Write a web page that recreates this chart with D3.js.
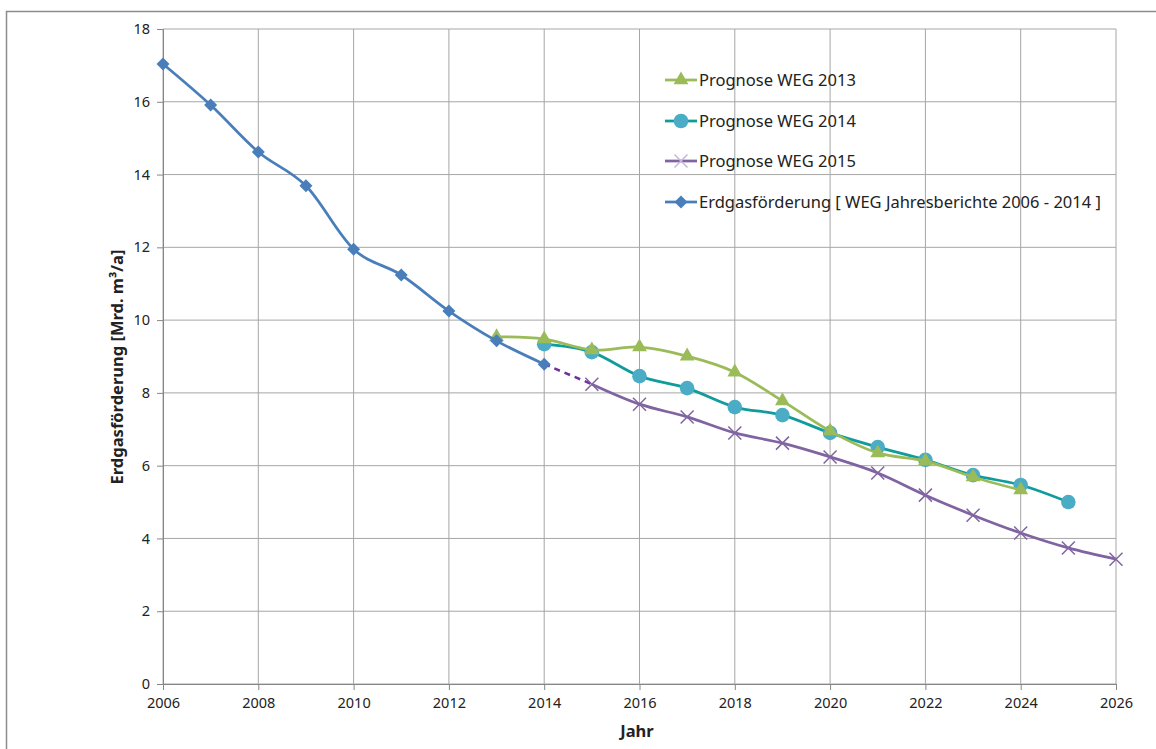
<!DOCTYPE html>
<html>
<head>
<meta charset="utf-8">
<script src="https://cdn.jsdelivr.net/npm/d3@7"></script>
<style>
  body { margin: 0; background: #fff; }
  text { font-family: "Noto Sans", "Open Sans", sans-serif; fill: #222; }
</style>
</head>
<body>
<div id="chart"></div>
<script>
// data
const yearsIst = [2006, 2007, 2008, 2009, 2010, 2011, 2012, 2013, 2014];
const valuesIst = [17.04, 15.91, 14.62, 13.69, 11.95, 11.24, 10.25, 9.43, 8.79];

const years2013 = [2013, 2014, 2015, 2016, 2017, 2018, 2019, 2020, 2021, 2022, 2023, 2024];
const values2013 = [9.54, 9.48, 9.18, 9.26, 9.01, 8.57, 7.78, 6.95, 6.35, 6.13, 5.69, 5.33];

const years2014 = [2014, 2015, 2016, 2017, 2018, 2019, 2020, 2021, 2022, 2023, 2024, 2025];
const values2014 = [9.34, 9.12, 8.46, 8.13, 7.61, 7.39, 6.90, 6.51, 6.16, 5.74, 5.47, 5.00];

const years2015 = [2015, 2016, 2017, 2018, 2019, 2020, 2021, 2022, 2023, 2024, 2025, 2026];
const values2015 = [8.24, 7.69, 7.34, 6.90, 6.62, 6.24, 5.80, 5.19, 4.64, 4.15, 3.74, 3.43];

// dashed link between last actual value and first WEG 2015 forecast
const yearsLink = [2014, 2015];
const valuesLink = [8.79, 8.24];

const xTicks = d3.range(2006, 2027, 2);
const yTicks = d3.range(0, 19, 2);

const legendLabels = ["Prognose WEG 2013", "Prognose WEG 2014", "Prognose WEG 2015",
  "Erdgasförderung [ WEG Jahresberichte 2006 - 2014 ]"];

const width = 1156, height = 749;
const margin = { top: 29, right: 40, bottom: 65, left: 163 };

const svg = d3.select("#chart").append("svg")
  .attr("width", width)
  .attr("height", height);

// outer chart border
svg.append("rect")
  .attr("x", 6.5).attr("y", 11.5)
  .attr("width", 1300).attr("height", 900)
  .attr("fill", "none")
  .attr("stroke", "#8c8c8c")
  .attr("stroke-width", 1.5);

const x = d3.scaleLinear().domain([2006, 2026]).range([margin.left, width - margin.right]);
const y = d3.scaleLinear().domain([0, 18]).range([height - margin.bottom, margin.top]);

// gridlines
svg.append("g")
  .selectAll("line.v")
  .data(xTicks)
  .enter().append("line")
  .attr("x1", d => x(d)).attr("x2", d => x(d))
  .attr("y1", y(18)).attr("y2", y(0))
  .attr("stroke", "#a6a6a6").attr("stroke-width", 1);

svg.append("g")
  .selectAll("line.h")
  .data(yTicks)
  .enter().append("line")
  .attr("x1", x(2006)).attr("x2", x(2026))
  .attr("y1", d => y(d)).attr("y2", d => y(d))
  .attr("stroke", "#a6a6a6").attr("stroke-width", 1);

// axes
const xAxis = svg.append("g")
  .attr("transform", `translate(0,${y(0)})`)
  .call(d3.axisBottom(x).tickValues(xTicks).tickFormat(d3.format("d")).tickSize(6).tickPadding(8));
const yAxis = svg.append("g")
  .attr("transform", `translate(${x(2006)},0)`)
  .call(d3.axisLeft(y).tickValues(yTicks).tickSize(6).tickPadding(7));

[xAxis, yAxis].forEach(g => {
  g.select(".domain").attr("stroke", "#868686");
  g.selectAll(".tick line").attr("stroke", "#868686");
  g.selectAll(".tick text").attr("font-size", "14.5px").attr("fill", "#222")
    .attr("font-family", "\"Noto Sans\", sans-serif");
});

// axis titles
svg.append("text")
  .attr("x", 637).attr("y", 737)
  .attr("text-anchor", "middle")
  .attr("font-size", "16.5px").attr("font-weight", "bold")
  .text("Jahr");

svg.append("text")
  .attr("transform", `translate(123,367) rotate(-90)`)
  .attr("text-anchor", "middle")
  .attr("font-size", "16.5px").attr("font-weight", "bold")
  .text("Erdgasförderung [Mrd. m³/a]");

const line = d3.line()
  .x(d => x(d[0]))
  .y(d => y(d[1]))
  .curve(d3.curveCardinal.tension(0));

const zip = (a, b) => a.map((v, i) => [v, b[i]]);

const series = [
  { pts: zip(years2013, values2013), line: "#9bbb59", marker: "triangle", fill: "#9bbb59" },
  { pts: zip(years2014, values2014), line: "#109c9c", marker: "circle", fill: "#4bacc6" },
  { pts: zip(years2015, values2015), line: "#8064a2", marker: "cross", fill: "#8064a2" },
  { pts: zip(yearsIst, valuesIst), line: "#4a7ebb", marker: "diamond", fill: "#4a7ebb" }
];

// dashed link
svg.append("path")
  .attr("d", line(zip(yearsLink, valuesLink)))
  .attr("fill", "none")
  .attr("stroke", "#7030a0")
  .attr("stroke-width", 2.5)
  .attr("stroke-dasharray", "6,5");

function drawMarker(g, type, cx, cy, color) {
  if (type === "triangle") {
    g.append("path")
      .attr("d", d3.symbol(d3.symbolTriangle, 95)())
      .attr("transform", `translate(${cx},${cy})`)
      .attr("fill", color);
  } else if (type === "circle") {
    g.append("circle").attr("cx", cx).attr("cy", cy).attr("r", 7.3).attr("fill", color);
  } else if (type === "diamond") {
    g.append("path")
      .attr("d", "M0,-6.5L6.5,0L0,6.5L-6.5,0Z")
      .attr("transform", `translate(${cx},${cy})`)
      .attr("fill", color);
  } else {
    g.append("path")
      .attr("d", "M-6.5,-6.5L6.5,6.5M-6.5,6.5L6.5,-6.5")
      .attr("transform", `translate(${cx},${cy})`)
      .attr("stroke", color).attr("stroke-width", 1.5);
  }
}

// draw in order: 2015, 2014, 2013, actual
[2, 1, 0, 3].forEach(i => {
  const s = series[i];
  svg.append("path")
    .attr("d", line(s.pts))
    .attr("fill", "none")
    .attr("stroke", s.line)
    .attr("stroke-width", 2.75);
  const g = svg.append("g");
  s.pts.forEach(p => drawMarker(g, s.marker, x(p[0]), y(p[1]), s.fill));
});

// legend
const legend = svg.append("g");
const legendY = [80, 121, 161, 202];
series.forEach((s, i) => {
  const ly = legendY[i];
  legend.append("line")
    .attr("x1", 665).attr("x2", 697)
    .attr("y1", ly).attr("y2", ly)
    .attr("stroke", s.line).attr("stroke-width", 2.75);
  drawMarker(legend, s.marker, 681, ly, s.marker === "cross" ? "#c6b8dc" : s.fill);
  legend.append("text")
    .attr("x", 699).attr("y", ly + 6)
    .attr("font-size", "16.5px")
    .text(legendLabels[i]);
});
</script>
</body>
</html>
